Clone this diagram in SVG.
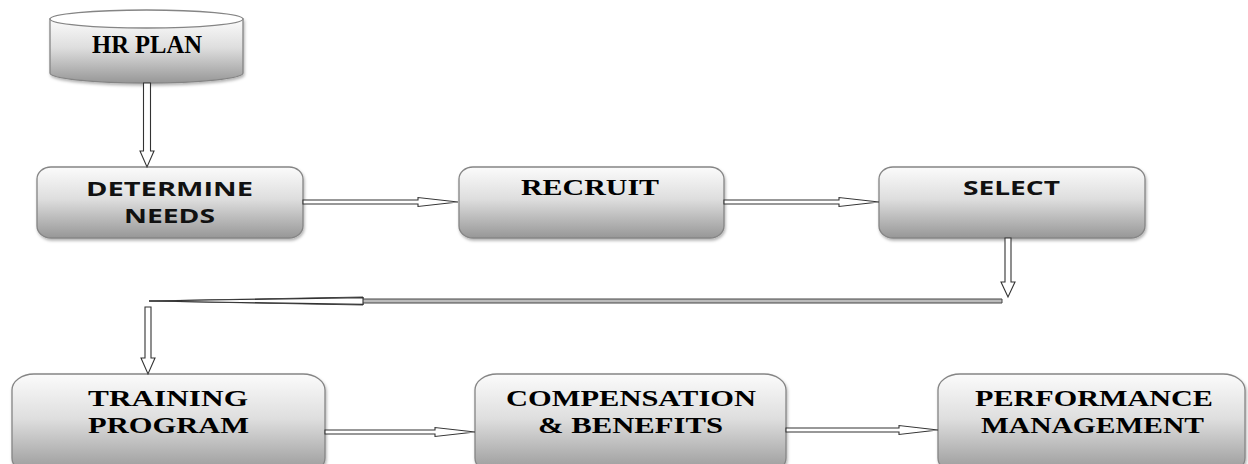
<svg xmlns="http://www.w3.org/2000/svg" width="1248" height="464" viewBox="0 0 1248 464">
<defs>
<linearGradient id="g" x1="0" y1="0" x2="0" y2="1">
<stop offset="0" stop-color="#fbfbfb"/>
<stop offset="0.45" stop-color="#dedede"/>
<stop offset="1" stop-color="#979797"/>
</linearGradient>
<filter id="sh" x="-5%" y="-10%" width="112%" height="130%">
<feDropShadow dx="1" dy="2" stdDeviation="1.5" flood-color="#000" flood-opacity="0.3"/>
</filter>
<style>
.box{fill:url(#g);stroke:#858585;stroke-width:1.3;filter:url(#sh)}
.serif{font-family:"Liberation Serif","Times New Roman",serif;font-weight:bold;fill:#000}
.sans{font-family:"Open Sans","Noto Sans","DejaVu Sans",sans-serif;font-weight:bold;fill:#111}
.arr{fill:#fff;stroke:#333;stroke-width:1.1;stroke-linejoin:miter}
.long{fill:#bbb;stroke:#444;stroke-width:1}
</style>
</defs>
<rect width="1248" height="464" fill="#fff"/>

<g id="hr-plan">
<path class="box" d="M50,19 V73 A96.5,10 0 0 0 243,73 V19 Z"/>
<ellipse cx="146.5" cy="19" rx="96.5" ry="9" fill="#fff" stroke="#858585" stroke-width="1.3"/>
<text class="serif" x="92" y="53" font-size="26" textLength="110" lengthAdjust="spacingAndGlyphs">HR PLAN</text>
</g>

<g id="determine-needs">
<rect class="box" x="37" y="167" width="266" height="71" rx="14" ry="12"/>
<text class="sans" x="86" y="196" font-size="19" textLength="167" lengthAdjust="spacingAndGlyphs">DETERMINE</text>
<text class="sans" x="124" y="223" font-size="19" textLength="91" lengthAdjust="spacingAndGlyphs">NEEDS</text>
</g>

<g id="recruit">
<rect class="box" x="459" y="167" width="265" height="71" rx="14" ry="12"/>
<text class="serif" x="521" y="195" font-size="23" textLength="138" lengthAdjust="spacingAndGlyphs">RECRUIT</text>
</g>

<g id="select">
<rect class="box" x="879" y="167" width="266" height="71" rx="14" ry="12"/>
<text class="sans" x="963" y="195" font-size="19" textLength="97" lengthAdjust="spacingAndGlyphs">SELECT</text>
</g>

<g id="training-program">
<rect class="box" x="12" y="374" width="313" height="100" rx="22" ry="16"/>
<text class="serif" x="88" y="406" font-size="23" textLength="160" lengthAdjust="spacingAndGlyphs">TRAINING</text>
<text class="serif" x="88" y="433" font-size="23" textLength="161" lengthAdjust="spacingAndGlyphs">PROGRAM</text>
</g>

<g id="compensation-benefits">
<rect class="box" x="475" y="374" width="311" height="100" rx="22" ry="16"/>
<text class="serif" x="506" y="406" font-size="23" textLength="250" lengthAdjust="spacingAndGlyphs">COMPENSATION</text>
<text class="serif" x="538" y="433" font-size="23" textLength="185" lengthAdjust="spacingAndGlyphs">&amp; BENEFITS</text>
</g>

<g id="performance-management">
<rect class="box" x="938" y="374" width="307" height="100" rx="22" ry="16"/>
<text class="serif" x="975" y="406" font-size="23" textLength="238" lengthAdjust="spacingAndGlyphs">PERFORMANCE</text>
<text class="serif" x="981" y="433" font-size="23" textLength="223" lengthAdjust="spacingAndGlyphs">MANAGEMENT</text>
</g>

<g id="connectors">
<polygon class="arr" points="143.5,83 150.5,83 150.5,151 154,151 147,167 140,151 143.5,151"/>
<polygon class="arr" points="303,200 418,200 418,197.5 458,202 418,206.5 418,204 303,204"/>
<polygon class="arr" points="724,200 839,200 839,197.5 879,202 839,206.5 839,204 724,204"/>
<polygon class="arr" points="1005,238 1011,238 1011,282 1015,282 1008,297 1001,282 1005,282"/>
<polygon class="long" points="1002,299 363,299 363,297 149,301 363,305 363,303 1002,303"/>
<polygon class="arr" points="363,297.6 149,301 363,304.4"/>
<polygon class="arr" points="145,307 151,307 151,358 155,358 148,374 141,358 145,358"/>
<polygon class="arr" points="325,430 435,430 435,427.5 475,432 435,436.5 435,434 325,434"/>
<polygon class="arr" points="786,428 899,428 899,425.5 938,430 899,434.5 899,432 786,432"/>
</g>
</svg>
